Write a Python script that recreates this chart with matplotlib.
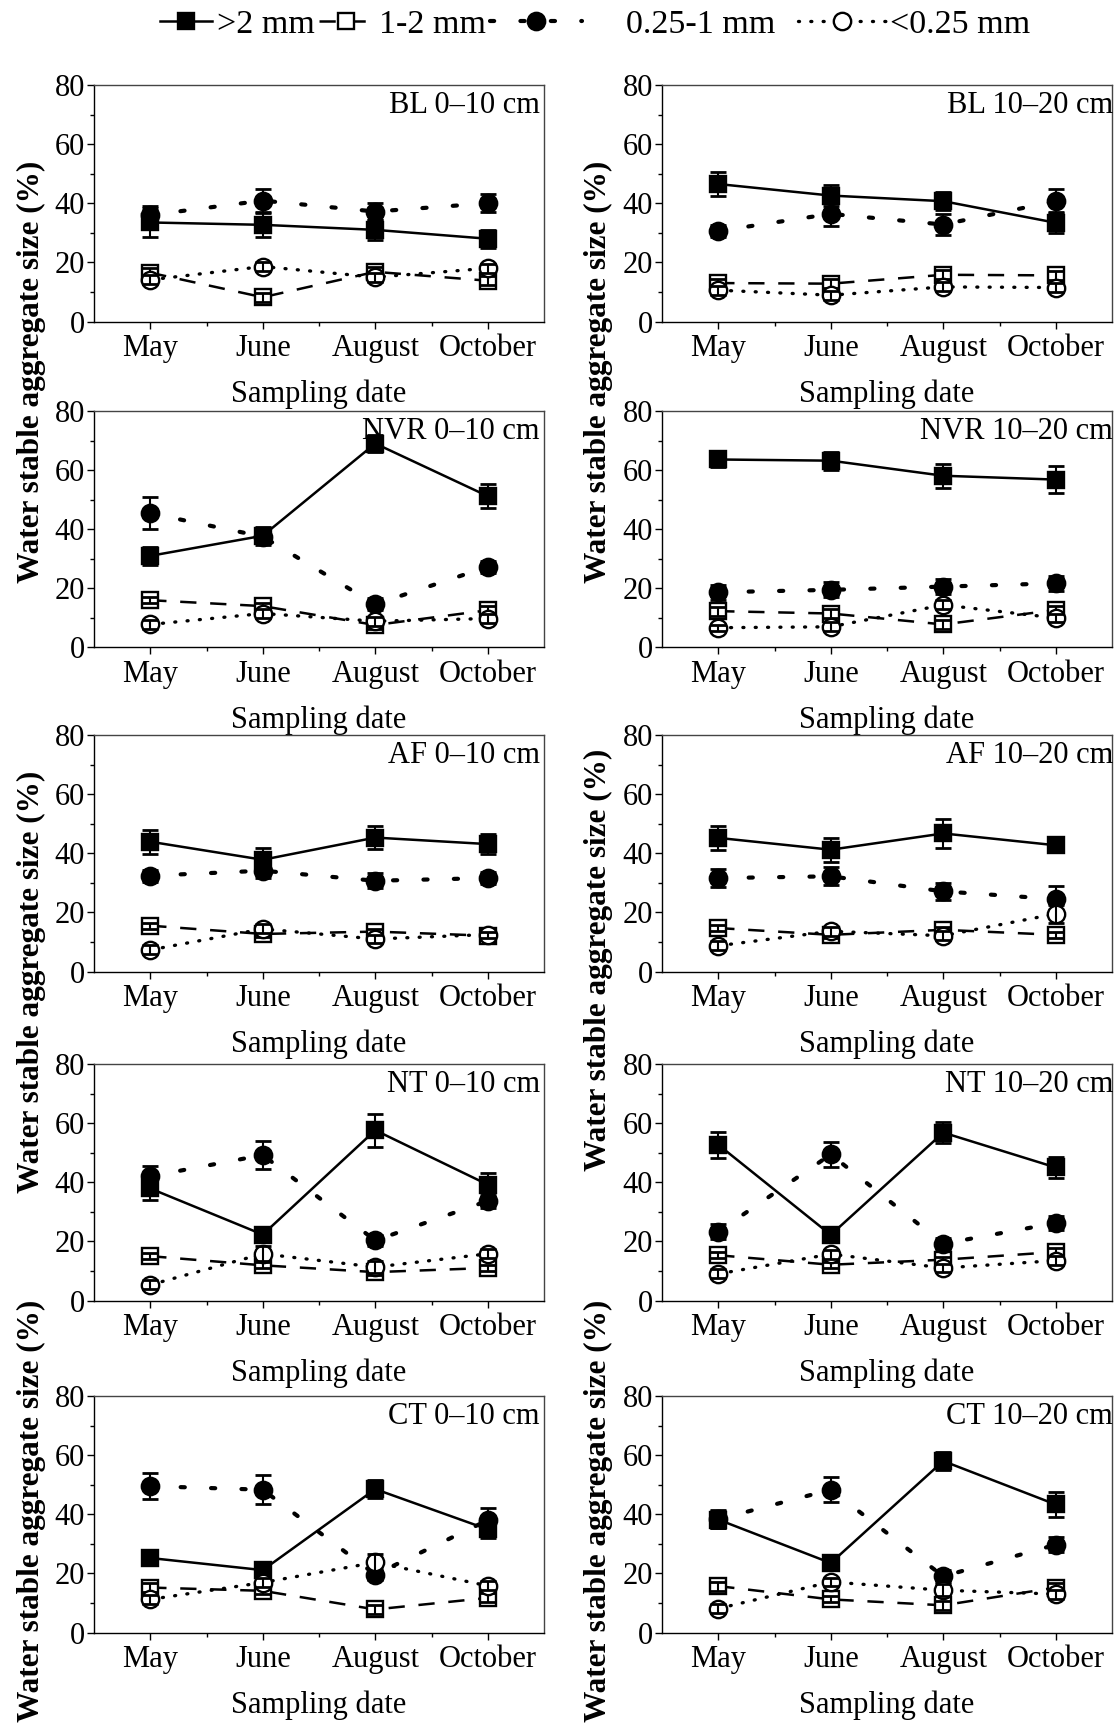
import matplotlib
matplotlib.use('Agg')
import matplotlib.pyplot as plt
from matplotlib.lines import Line2D
from matplotlib.ticker import MultipleLocator, FixedLocator
import matplotlib.transforms as mtransforms

plt.rcParams['font.family'] = ['Liberation Serif', 'DejaVu Serif']

months = ['May', 'June', 'August', 'October']
fractions = ['>2 mm', '1-2 mm', '0.25-1 mm', '<0.25 mm']
panel_titles = ['BL 0–10 cm', 'BL 10–20 cm', 'NVR 0–10 cm', 'NVR 10–20 cm',
                'AF 0–10 cm', 'AF 10–20 cm', 'NT 0–10 cm', 'NT 10–20 cm',
                'CT 0–10 cm', 'CT 10–20 cm']
y_label = 'Water stable aggregate size (%)'
x_label = 'Sampling date'

# >2 mm
gt2_mean = [[33.5, 32.7, 31.0, 28.0], [46.5, 42.6, 40.7, 33.4],
            [31.0, 37.8, 69.0, 51.2], [63.6, 63.2, 58.1, 56.8],
            [43.9, 37.8, 45.3, 43.1], [45.2, 41.2, 46.7, 42.7],
            [37.9, 22.3, 57.6, 39.2], [52.7, 22.2, 56.8, 45.0],
            [25.2, 21.1, 48.5, 34.9], [38.2, 23.5, 58.0, 43.3]]
gt2_err = [[5.0, 4.0, 3.5, 3.0], [4.2, 3.5, 3.0, 3.5],
           [3.0, 3.0, 3.0, 4.0], [2.5, 3.0, 4.0, 4.5],
           [4.0, 4.0, 4.0, 3.5], [4.0, 4.0, 5.0, 2.0],
           [4.0, 2.0, 5.6, 4.0], [4.4, 2.5, 3.5, 3.7],
           [2.5, 2.0, 3.0, 3.0], [3.0, 2.5, 3.0, 4.3]]
# 1-2 mm
mid_mean = [[16.5, 8.2, 16.8, 13.8], [13.0, 12.8, 15.8, 15.6],
            [16.0, 14.0, 7.6, 12.6], [12.3, 11.5, 7.8, 12.7],
            [15.5, 12.7, 13.5, 12.1], [14.7, 12.4, 14.1, 12.4],
            [15.0, 11.9, 9.6, 11.0], [15.3, 12.1, 13.8, 16.4],
            [15.2, 14.1, 7.8, 11.7], [15.7, 11.2, 9.2, 15.2]]
mid_err = [[1.5, 1.5, 1.5, 1.5], [1.5, 1.5, 1.5, 1.5],
           [1.0, 1.0, 1.5, 1.5], [1.5, 1.5, 1.5, 1.5],
           [1.0, 1.0, 1.0, 1.0], [1.0, 1.0, 1.0, 1.0],
           [1.0, 1.0, 1.0, 1.0], [1.0, 1.0, 1.0, 1.5],
           [1.5, 1.0, 1.5, 1.5], [1.5, 1.0, 1.5, 1.5]]
# 0.25-1 mm
fine_mean = [[36.0, 40.9, 37.2, 40.0], [30.6, 36.4, 32.8, 40.7],
             [45.4, 37.5, 14.6, 27.3], [18.7, 19.5, 20.6, 21.7],
             [32.4, 34.1, 30.7, 31.6], [31.6, 32.2, 27.1, 24.5],
             [42.0, 49.2, 20.3, 33.7], [23.3, 49.4, 19.2, 26.2],
             [49.5, 48.3, 19.6, 38.0], [38.3, 48.3, 19.0, 29.7]]
fine_err = [[3.0, 4.0, 3.0, 3.0], [2.0, 4.0, 3.5, 4.0],
            [5.4, 2.0, 2.0, 2.0], [2.5, 2.5, 2.5, 2.5],
            [2.0, 2.5, 2.5, 2.0], [3.0, 3.0, 3.0, 4.5],
            [3.5, 4.6, 2.0, 2.5], [2.5, 4.3, 2.0, 2.5],
            [4.4, 5.0, 2.0, 4.0], [3.0, 4.3, 2.0, 2.5]]
# <0.25 mm
micro_mean = [[14.1, 18.6, 15.0, 18.0], [10.6, 8.9, 11.7, 11.5],
              [7.8, 11.5, 8.9, 9.8], [6.7, 7.0, 14.4, 10.0],
              [7.3, 14.4, 11.0, 12.5], [8.7, 13.6, 12.1, 19.5],
              [5.3, 15.8, 11.3, 15.8], [9.0, 15.7, 11.0, 13.5],
              [11.2, 16.9, 23.7, 15.8], [8.1, 17.1, 14.3, 13.0]]
micro_err = [[1.5, 1.5, 1.5, 1.5], [1.5, 1.5, 1.5, 1.5],
             [1.5, 1.5, 1.5, 1.5], [1.0, 1.5, 1.5, 1.5],
             [1.5, 1.5, 1.5, 1.0], [1.5, 1.5, 1.5, 3.0],
             [1.5, 2.5, 2.0, 1.5], [1.5, 1.5, 1.5, 1.5],
             [1.5, 1.5, 3.0, 1.5], [1.5, 1.5, 2.0, 1.5]]

W, H = 1118, 1726
fig = plt.figure(figsize=(W / 100, H / 100), dpi=100)

col_left_px = [94.0, 662.0]
ax_w_px = 450.0
row_top_px = [85, 411, 735, 1064, 1396]
ax_h_px = 236.5

FS = 22
LFS = 24.5
styles = [
    dict(ls='-', marker='s', mfc='black', lw=1.8, ms=12),
    dict(ls=(0, (6.5, 5.5)), marker='s', mfc='white', lw=1.8, ms=11.5),
    dict(ls=(0, (1.0, 6.3)), marker='o', mfc='black', lw=3.0, ms=12.5,
         dash_capstyle='round'),
    dict(ls=(0, (0.3, 3.4)), marker='o', mfc='white', lw=2.4, ms=12.5,
         dash_capstyle='round'),
]
zorders = [3, 4, 5, 6]
series_means = [gt2_mean, mid_mean, fine_mean, micro_mean]
series_errs = [gt2_err, mid_err, fine_err, micro_err]

x = list(range(1, len(months) + 1))

for i, title in enumerate(panel_titles):
    r, c = divmod(i, 2)
    left = col_left_px[c] / W
    bottom = 1 - (row_top_px[r] + ax_h_px) / H
    ax = fig.add_axes([left, bottom, ax_w_px / W, ax_h_px / H])
    for k in range(4):
        st = styles[k]
        ax.plot(x, series_means[k][i], color='black', ls=st['ls'], lw=st['lw'],
                marker=st['marker'], ms=st['ms'], mfc=st['mfc'], mec='black',
                mew=1.7, zorder=zorders[k],
                dash_capstyle=st.get('dash_capstyle', 'butt'))
        ax.errorbar(x, series_means[k][i], yerr=series_errs[k][i], fmt='none',
                    ecolor='black', elinewidth=1.5, capsize=5.5, capthick=2.0,
                    zorder=zorders[k] + 0.5)
    ax.set_xlim(0.5, 4.5)
    ax.set_ylim(0, 80)
    ax.set_xticks(x)
    ax.set_xticklabels(months)
    ax.xaxis.set_minor_locator(FixedLocator([1.5, 2.5, 3.5]))
    ax.yaxis.set_major_locator(MultipleLocator(20))
    ax.yaxis.set_minor_locator(MultipleLocator(10))
    ax.tick_params(axis='both', which='major', labelsize=FS, direction='out',
                   length=5, width=1.0)
    ax.tick_params(axis='both', which='minor', direction='out', length=3, width=1.0)
    ax.tick_params(axis='x', which='major', pad=4)
    ax.tick_params(axis='y', which='major', pad=1.5)
    for s in ['top', 'right']:
        ax.spines[s].set_color('#444444')
        ax.spines[s].set_linewidth(1.0)
    for s in ['bottom', 'left']:
        ax.spines[s].set_linewidth(1.0)
    ax.set_xlabel(x_label, fontsize=FS, labelpad=12)
    off = -4 if c == 0 else 1
    trans = mtransforms.offset_copy(ax.transAxes, fig=fig, x=off, y=-28, units='dots')
    ax.text(1.0, 1.0, title, transform=trans, ha='right', va='baseline',
            fontsize=FS, zorder=10)

# y labels (shared across the stacked tiles)
ylab_x_px = [31, 598]
ylab_y_px = [[372, 982, 1511], [372, 960, 1511]]
for c in range(2):
    for yc in ylab_y_px[c]:
        fig.text(ylab_x_px[c] / W, 1 - yc / H, y_label, rotation=90,
                 ha='center', va='center', fontsize=22.5, fontweight='bold')

# legend: one entry per legend so each handle can have its own length
leg_x_px = [160, 319, 490, 798]
leg_hlen = [1.52, 1.6, 2.7, 2.6]
leg_pad = [0.16, 0.16, 1.3, 0.1]
for k in range(4):
    st = styles[k]
    h = Line2D([0], [0], color='black', ls=st['ls'], lw=st['lw'],
               marker=st['marker'], ms=st['ms'], mfc=st['mfc'],
               mec='black', mew=1.7,
               dash_capstyle=st.get('dash_capstyle', 'butt'))
    fig.legend([h], [fractions[k]], loc='center left',
               bbox_to_anchor=(leg_x_px[k] / W, 1 - 25 / H),
               frameon=False, fontsize=LFS, handlelength=leg_hlen[k],
               handletextpad=leg_pad[k], borderpad=0, borderaxespad=0)

fig.savefig('out.png', dpi=100)
